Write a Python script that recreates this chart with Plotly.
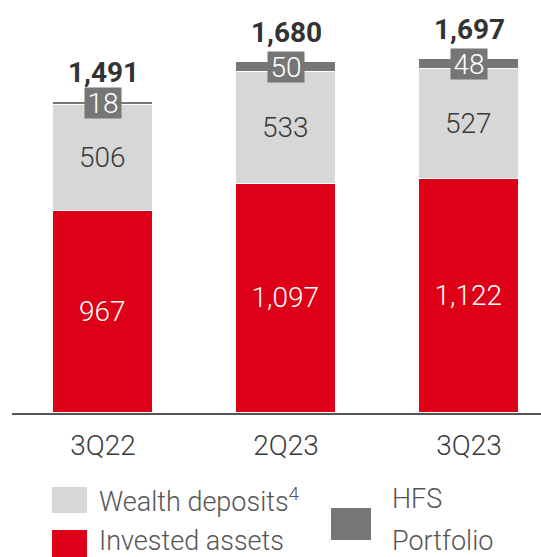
import plotly.graph_objects as go

categories = ["3Q22", "2Q23", "3Q23"]
invested = [967, 1097, 1122]
wealth = [506, 533, 527]
hfs = [18, 50, 48]
totals = [1491, 1680, 1697]

RED = "#DE0016"
LIGHT = "#D7D7D7"
DARK = "#767676"
TXT = "#3A3A3A"
FONT = "Roboto"

W, H = 541, 557
L, R, T, B = 12, 0, 20, 144
pw, ph = W - L - R, H - T - B

def px(x):
    return (x - L) / pw

def py(y):
    return (H - B - y) / ph

xs = [0, 1, 2]
fig = go.Figure()
fig.add_bar(x=xs, y=invested, marker=dict(color=RED, line=dict(color="white", width=1.5)),
            text=[f"{v:,}" for v in invested], textposition="inside", insidetextanchor="middle",
            textfont=dict(color="white", size=28, family=FONT, weight=300), width=0.55,
            showlegend=False, hoverinfo="skip")
fig.add_bar(x=xs, y=wealth, marker=dict(color=LIGHT, line=dict(color="white", width=1.5)),
            text=[f"{v:,}" for v in wealth], textposition="inside", insidetextanchor="middle",
            textfont=dict(color=TXT, size=28, family=FONT, weight=300), width=0.55,
            showlegend=False, hoverinfo="skip")
fig.add_bar(x=xs, y=hfs, marker=dict(color=DARK, line=dict(color="white", width=1.5)),
            text=None, width=0.55, showlegend=False, hoverinfo="skip")

for i in range(3):
    base = invested[i] + wealth[i]
    fig.add_annotation(x=xs[i], y=base + hfs[i] / 2, text=f"{hfs[i]}", showarrow=False,
                       font=dict(color="white", size=28, family=FONT, weight=300), bgcolor=DARK,
                       width=34, height=28, borderpad=1, xref="x", yref="y")
    fig.add_annotation(x=xs[i], y=totals[i], text=f"<b>{totals[i]:,}</b>", showarrow=False,
                       font=dict(color="#333333", size=28, family=FONT), yanchor="bottom",
                       yshift=11, xref="x", yref="y")

# legend
leg = [
    (52, 487, 87, 513, LIGHT),
    (52, 530, 87, 557, RED),
    (331, 508, 371, 540, DARK),
]
for x0, y0, x1, y1, c in leg:
    fig.add_shape(type="rect", xref="paper", yref="paper", x0=px(x0), x1=px(x1),
                  y0=py(y1), y1=py(y0), fillcolor=c, line=dict(width=0))
legtxt = [
    (97, 500, "Wealth deposits<sup>4</sup>"),
    (97, 541, "Invested assets"),
    (390, 499, "HFS"),
    (390, 541, "Portfolio"),
]
for x, y, t in legtxt:
    fig.add_annotation(xref="paper", yref="paper", x=px(x), y=py(y), text=t, showarrow=False,
                       xanchor="left", yanchor="middle",
                       font=dict(color="#555555", size=27, family=FONT, weight=300))

fig.update_layout(
    barmode="stack", width=W, height=H, margin=dict(l=L, r=R, t=T, b=B),
    paper_bgcolor="white", plot_bgcolor="white",
    xaxis=dict(range=[-91 / 183, 2 + 72 / 183], tickvals=xs, ticktext=categories,
               showline=True, linecolor="#555555", linewidth=1.5, showgrid=False, zeroline=False,
               ticks="", ticklabelstandoff=7,
               tickfont=dict(size=28, color=TXT, family=FONT, weight=300), fixedrange=True),
    yaxis=dict(range=[0, ph / 0.2089], visible=False, fixedrange=True),
    bargap=0,
)
fig.write_html("out.html", config={"displayModeBar": False},
               post_script="document.body.style.margin='0';document.body.style.overflow='hidden';")
